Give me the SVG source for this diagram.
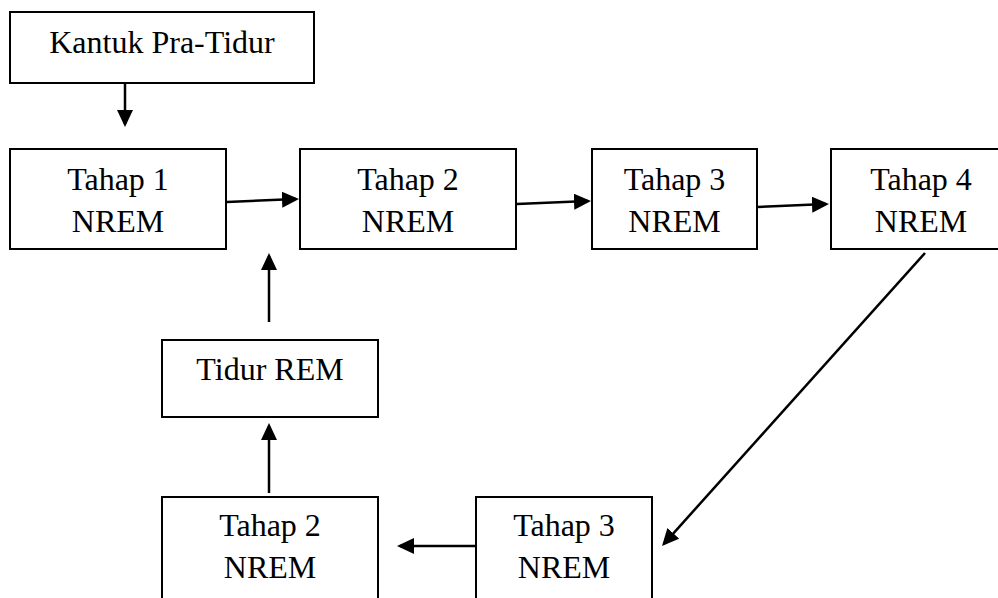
<svg xmlns="http://www.w3.org/2000/svg" width="998" height="598" viewBox="0 0 998 598">
<style>
.box{fill:#fff;stroke:#000;stroke-width:2}
.t{font-family:"Liberation Serif","Times New Roman",serif;font-size:32px;fill:#000;text-anchor:middle}
.c{fill:none;stroke:#000;stroke-width:2.5}
</style>
<defs>
<marker id="ah" markerUnits="userSpaceOnUse" markerWidth="17" markerHeight="16" refX="14" refY="8" orient="auto">
<path d="M0,0 L17,8 L0,16 z" fill="#000"/>
</marker>
</defs>
<rect width="998" height="598" fill="#fff"/>
<g id="kantuk"><rect class="box" x="10" y="12" width="304" height="71"/><text class="t" x="162" y="53">Kantuk Pra-Tidur</text></g>
<g id="tahap1"><rect class="box" x="10" y="149" width="216" height="100"/><text class="t" x="118" y="190">Tahap 1</text><text class="t" x="118" y="232">NREM</text></g>
<g id="tahap2a"><rect class="box" x="300" y="149" width="216" height="100"/><text class="t" x="408" y="190">Tahap 2</text><text class="t" x="408" y="232">NREM</text></g>
<g id="tahap3a"><rect class="box" x="592" y="149" width="165" height="100"/><text class="t" x="674.5" y="190">Tahap 3</text><text class="t" x="674.5" y="232">NREM</text></g>
<g id="tahap4"><rect class="box" x="831" y="149" width="180" height="100"/><text class="t" x="921" y="190">Tahap 4</text><text class="t" x="921" y="232">NREM</text></g>
<g id="rem"><rect class="box" x="162" y="340" width="216" height="77"/><text class="t" x="270" y="380">Tidur REM</text></g>
<g id="tahap2b"><rect class="box" x="162" y="497" width="216" height="115"/><text class="t" x="270" y="536">Tahap 2</text><text class="t" x="270" y="578">NREM</text></g>
<g id="tahap3b"><rect class="box" x="476" y="497" width="176" height="115"/><text class="t" x="564" y="536">Tahap 3</text><text class="t" x="564" y="578">NREM</text></g>
<g id="connectors">
<path class="c" d="M125,83 L125,124" marker-end="url(#ah)"/>
<path class="c" d="M227,202 L296,199.1" marker-end="url(#ah)"/>
<path class="c" d="M517,204 L588,201.1" marker-end="url(#ah)"/>
<path class="c" d="M757,207 L826,204.1" marker-end="url(#ah)"/>
<path class="c" d="M925,253 L664,543.8" marker-end="url(#ah)"/>
<path class="c" d="M476,546 L400,546" marker-end="url(#ah)"/>
<path class="c" d="M269,493 L269,426" marker-end="url(#ah)"/>
<path class="c" d="M269,322 L269,256" marker-end="url(#ah)"/>
</g>
</svg>
